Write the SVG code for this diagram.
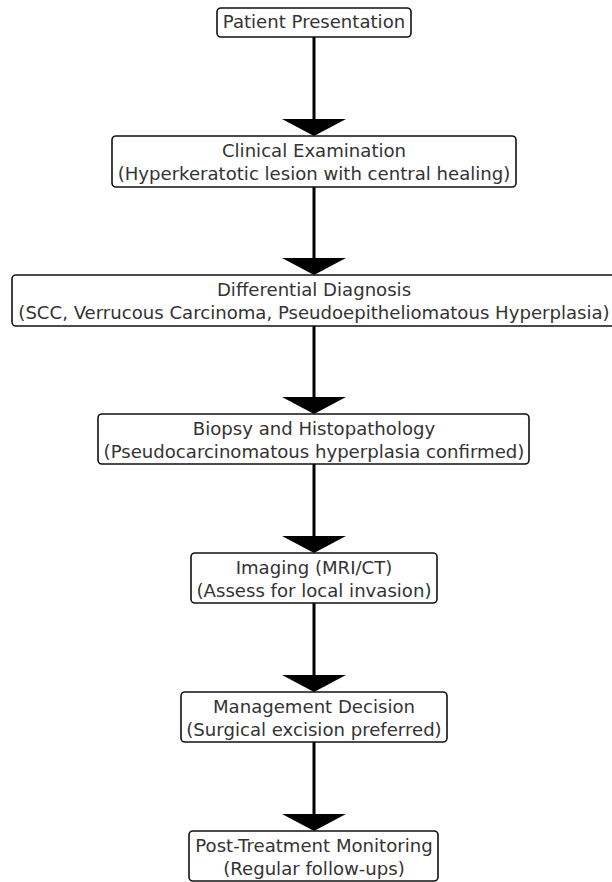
<svg xmlns="http://www.w3.org/2000/svg" width="612" height="882" viewBox="0 0 612 882">
<style>
.box{fill:#fff;stroke:#111;stroke-width:1.6}
.t{font-family:"DejaVu Sans",sans-serif;font-size:18.1px;fill:#333;text-anchor:middle}
.ln{stroke:#000;stroke-width:3;fill:none}
.ah{fill:#000}
</style>
<rect width="612" height="882" fill="#fff"/>
<g id="connectors">
<line class="ln" x1="314" y1="37" x2="314" y2="120"/><polygon class="ah" points="282,119 346,119 314,136"/>
<line class="ln" x1="314" y1="187" x2="314" y2="259"/><polygon class="ah" points="282,258 346,258 314,275"/>
<line class="ln" x1="314" y1="326" x2="314" y2="398"/><polygon class="ah" points="282,397 346,397 314,414"/>
<line class="ln" x1="314" y1="464" x2="314" y2="537"/><polygon class="ah" points="282,536 346,536 314,553"/>
<line class="ln" x1="314" y1="603" x2="314" y2="676"/><polygon class="ah" points="282,675 346,675 314,692"/>
<line class="ln" x1="314" y1="742" x2="314" y2="815"/><polygon class="ah" points="282,814 346,814 314,831"/>
</g>
<g id="n1"><rect class="box" x="217" y="8" width="194" height="29" rx="4"/><text class="t" x="314" y="28">Patient Presentation</text></g>
<g id="n2"><rect class="box" x="112" y="136" width="404" height="51" rx="4"/><text class="t" x="314" y="157">Clinical Examination</text><text class="t" x="314" y="180">(Hyperkeratotic lesion with central healing)</text></g>
<g id="n3"><rect class="box" x="12" y="275" width="604" height="51" rx="4"/><text class="t" x="314" y="296">Differential Diagnosis</text><text class="t" x="314" y="319">(SCC, Verrucous Carcinoma, Pseudoepitheliomatous Hyperplasia)</text></g>
<g id="n4"><rect class="box" x="98" y="414" width="431" height="50" rx="4"/><text class="t" x="314" y="435">Biopsy and Histopathology</text><text class="t" x="314" y="458">(Pseudocarcinomatous hyperplasia confirmed)</text></g>
<g id="n5"><rect class="box" x="191" y="553" width="246" height="50" rx="4"/><text class="t" x="314" y="574">Imaging (MRI/CT)</text><text class="t" x="314" y="597">(Assess for local invasion)</text></g>
<g id="n6"><rect class="box" x="181" y="692" width="266" height="50" rx="4"/><text class="t" x="314" y="713">Management Decision</text><text class="t" x="314" y="736">(Surgical excision preferred)</text></g>
<g id="n7"><rect class="box" x="189" y="831" width="249" height="50" rx="4"/><text class="t" x="314" y="852">Post-Treatment Monitoring</text><text class="t" x="314" y="875">(Regular follow-ups)</text></g>
</svg>
